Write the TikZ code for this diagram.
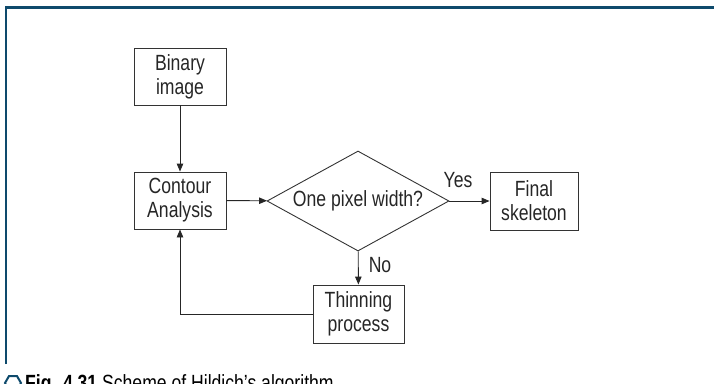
\documentclass[tikz,border=0pt]{standalone}
\usepackage{fontspec}
\setmainfont[FakeStretch=0.8]{Liberation Sans}
\usetikzlibrary{shapes.geometric,arrows.meta}
\definecolor{frameblue}{HTML}{0E4A6C}
\definecolor{boxline}{HTML}{333333}
\begin{document}
\begin{tikzpicture}[x=1pt,y=-1pt,
  every node/.style={font=\fontsize{22}{24}\selectfont, text=black!85},
  procbox/.style={draw=boxline, line width=0.9pt, rectangle, inner sep=0pt, align=center},
  decbox/.style={draw=boxline, line width=0.9pt, diamond, inner sep=0pt, minimum width=182pt, minimum height=100pt},
  conn/.style={draw=black!85, line width=0.9pt, -{Triangle[length=8pt,width=6.5pt]}},
  lbl/.style={inner sep=0pt}
]
\useasboundingbox (0,0) rectangle (714,383);
\clip (0,0) rectangle (714,383);
% frame
\draw[frameblue, line width=2.5pt] (6,364) -- (6,7.5) -- (716,7.5);
% nodes
\node[procbox, minimum width=92pt, minimum height=57pt] (bin) at (180,76.5) {Binary\\image};
\node[procbox, minimum width=92pt, minimum height=57pt] (cont) at (180,200.5) {Contour\\Analysis};
\node[decbox] (dec) at (358,201) {};
\node[inner sep=0pt] (dectext) at (dec.center) {One pixel width?};
\node[procbox, minimum width=88pt, minimum height=58pt] (fin) at (534,201) {Final\\skeleton};
\node[procbox, minimum width=91pt, minimum height=58pt] (thin) at (358.5,314) {Thinning\\process};
% labels
\node[lbl] (yes) at (458,180) {Yes};
\node[lbl] (no) at (380,265) {No};
% connectors
\draw[conn] (bin) -- (cont);
\draw[conn] (cont) -- (dec);
\draw[conn] (dec) -- (fin);
\draw[conn] (dec) -- (thin);
\draw[conn] (thin.west) -- (cont.south |- thin.west) -- (cont.south);
% caption
\node[draw=frameblue, line width=2pt, regular polygon, regular polygon sides=6, minimum size=16pt, inner sep=0pt] (icon) at (13,383) {};
\node[anchor=base west, inner sep=0pt, font=\fontsize{22}{24}\selectfont, text=black] (cap) at (25,390) {\textbf{Fig. 4.31} Scheme of Hildich's algorithm};
\end{tikzpicture}
\end{document}
